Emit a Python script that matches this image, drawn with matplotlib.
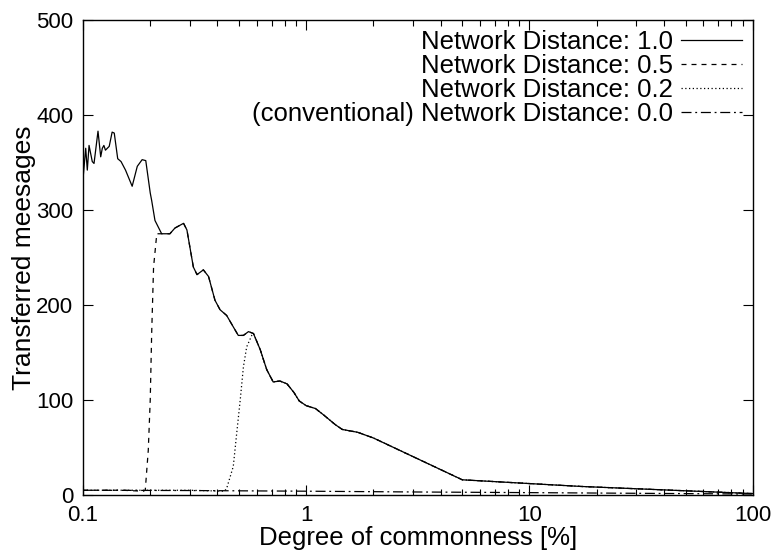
import matplotlib
matplotlib.use("Agg")
import matplotlib.pyplot as plt
from matplotlib.ticker import LogLocator, FixedLocator, NullFormatter

plt.rcParams['font.family'] = ['Liberation Sans', 'DejaVu Sans']

# Network Distance 1.0
x_nd10 = [0.100, 0.1028, 0.1045, 0.1064, 0.110, 0.112, 0.1167, 0.120, 0.122, 0.124,
          0.126, 0.131, 0.135, 0.138, 0.143, 0.148, 0.155, 0.166, 0.175, 0.184,
          0.191, 0.200, 0.203, 0.210, 0.225, 0.245, 0.258, 0.282, 0.292, 0.312,
          0.324, 0.346, 0.365, 0.390, 0.411, 0.440, 0.471, 0.496, 0.523, 0.551,
          0.580, 0.622, 0.665, 0.711, 0.762, 0.82, 0.88, 0.93, 1.0, 1.1,
          1.2, 1.35, 1.45, 1.7, 2.0, 5.0, 17.0, 100.0]
y_nd10 = [333, 365, 342, 368, 351, 349, 383, 356, 365, 368,
          363, 367, 382, 381, 354, 351, 342, 325, 346, 353,
          352, 318, 310, 289, 275, 275, 281, 286, 279, 240,
          232, 237, 230, 205, 195, 189, 177, 168, 168, 172,
          170, 153, 132, 119, 120, 117, 108, 99, 94, 91,
          84, 74, 69, 66, 60, 16, 9, 1.5]

# Network Distance 0.5: flat, then rises to meet the 1.0 curve
x_nd05_rise = [0.100, 0.150, 0.186, 0.190, 0.196, 0.200, 0.203, 0.207, 0.214]
y_nd05_rise = [5, 5, 4, 5, 47, 100, 170, 240, 275]

# Network Distance 0.2
x_nd02_rise = [0.100, 0.300, 0.430, 0.440, 0.471, 0.488, 0.506, 0.523, 0.541, 0.570]
y_nd02_rise = [5, 5, 4, 7, 30, 65, 100, 135, 156, 168]

# conventional, Network Distance 0.0
x_nd00 = [0.1, 0.3, 1.0, 3.0, 10.0, 30.0, 100.0]
y_nd00 = [5, 4.7, 4, 3.2, 2.5, 1.8, 1]

labels = ["Network Distance: 1.0", "Network Distance: 0.5",
          "Network Distance: 0.2", "(conventional) Network Distance: 0.0"]

# after the rise, the lower-distance curves follow the 1.0 curve
x_nd05 = x_nd05_rise + [x for x in x_nd10 if x > x_nd05_rise[-1]]
y_nd05 = y_nd05_rise + [y for x, y in zip(x_nd10, y_nd10) if x > x_nd05_rise[-1]]
x_nd02 = x_nd02_rise + [x for x in x_nd10 if x > x_nd02_rise[-1]]
y_nd02 = y_nd02_rise + [y for x, y in zip(x_nd10, y_nd10) if x > x_nd02_rise[-1]]

fig = plt.figure(figsize=(7.76, 5.5), dpi=100)
ax = fig.add_axes([0.107, 0.1, 0.863, 0.8636])

lw = 0.9
ax.plot(x_nd10, y_nd10, color='black', lw=lw, label=labels[0])
ax.plot(x_nd05, y_nd05, color='black', lw=lw, dashes=(4, 4), label=labels[1])
ax.plot(x_nd02, y_nd02, color='black', lw=lw, dashes=(1, 2), label=labels[2])
ax.plot(x_nd00, y_nd00, color='black', lw=lw, dashes=(8, 3, 1.5, 3), label=labels[3])

ax.set_xscale('log')
ax.set_xlim(0.1, 100)
ax.set_ylim(0, 500)
ax.xaxis.set_major_locator(FixedLocator([0.1, 1, 10, 100]))
ax.set_xticklabels(['0.1', '1', '10', '100'])
ax.xaxis.set_minor_locator(LogLocator(base=10, subs=range(2, 10)))
ax.xaxis.set_minor_formatter(NullFormatter())
ax.set_yticks([0, 100, 200, 300, 400, 500])

ax.tick_params(which='both', direction='in', top=True, right=True, labelsize=16, width=0.8)
ax.tick_params(which='major', length=7)
ax.tick_params(axis='y', pad=7)
ax.tick_params(axis='x', pad=7)
ax.tick_params(which='minor', length=4)
for s in ax.spines.values():
    s.set_linewidth(1.0)

ax.set_xlabel("Degree of commonness [%]", fontsize=18.5, labelpad=0)
ax.set_ylabel("Transferred meesages", fontsize=19, labelpad=0)

ax.legend(loc='upper right', frameon=False, markerfirst=False, fontsize=18.5,
          handlelength=2.4, handletextpad=0.3, labelspacing=0.0,
          borderaxespad=0.3, borderpad=0.1)

fig.savefig("out.png", dpi=100)
